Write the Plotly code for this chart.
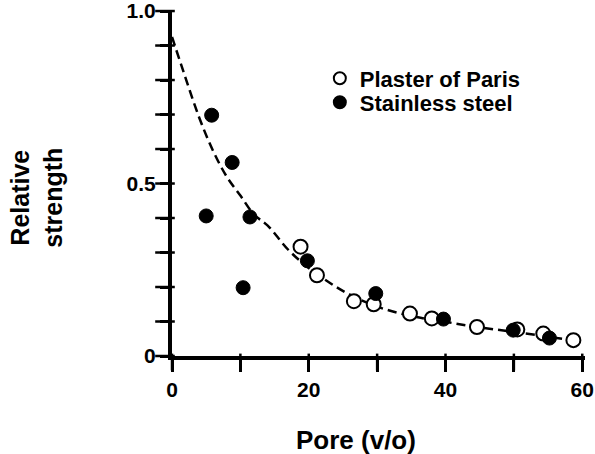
import plotly.graph_objects as go

# Data
plaster_x = [18.8, 21.2, 26.6, 29.5, 34.8, 38.0, 44.6, 50.5, 54.3, 58.7]
plaster_y = [0.317, 0.234, 0.159, 0.150, 0.123, 0.109, 0.084, 0.077, 0.065, 0.046]

steel_x = [5.8, 8.8, 5.0, 11.4, 10.4, 19.8, 29.8, 39.7, 49.9, 55.2]
steel_y = [0.698, 0.561, 0.406, 0.403, 0.198, 0.276, 0.181, 0.107, 0.075, 0.052]

fit_x = [0, 2, 4, 6, 8, 10, 12, 14, 17, 20, 23, 26, 30, 35, 40, 45, 50, 55, 58.7]
fit_y = [0.925, 0.805, 0.69, 0.595, 0.52, 0.465, 0.41, 0.378, 0.308, 0.255,
         0.213, 0.178, 0.143, 0.116, 0.099, 0.083, 0.070, 0.056, 0.045]

x_ticks = [0, 10, 20, 30, 40, 50, 60]
x_labels = ["0", "", "20", "", "40", "", "60"]
y_ticks = [0, 0.1, 0.2, 0.3, 0.4, 0.5, 0.6, 0.7, 0.8, 0.9, 1.0]
y_labels = ["0", "", "", "", "", "0.5", "", "", "", "", "1.0"]

FONT = "Liberation Sans, Arial, Helvetica, sans-serif"

# layout geometry (pixels)
W, H = 595, 454
ML, MR, MT, MB = 158, 10, 10, 86
PW = W - ML - MR
PH = H - MT - MB
YTICK_PX = 14   # tick strip left of the y axis
XTICK_PX = 12   # tick strip below the x axis

fig = go.Figure()
fig.add_trace(go.Scatter(
    x=fit_x, y=fit_y, mode="lines",
    line=dict(color="black", width=2.5, dash="9px,5px", shape="spline"),
    showlegend=False, hoverinfo="skip"))
fig.add_trace(go.Scatter(
    x=plaster_x, y=plaster_y, mode="markers", name="<b>Plaster of Paris</b>",
    marker=dict(symbol="circle", size=14, color="white", line=dict(color="black", width=2)),
    legend="legend"))
fig.add_trace(go.Scatter(
    x=steel_x, y=steel_y, mode="markers", name="<b>Stainless steel</b>",
    marker=dict(symbol="circle", size=14, color="black", line=dict(color="black", width=1)),
    legend="legend2"))

# Tick marks: line markers in thin strips next to the axes, placed by the axis scales
fig.add_trace(go.Scatter(
    x=[0.5] * len(y_ticks), y=y_ticks, xaxis="x2", yaxis="y", mode="markers",
    marker=dict(symbol="line-ew", size=14, color="black", line=dict(color="black", width=2.5)),
    cliponaxis=False, showlegend=False, hoverinfo="skip"))
fig.add_trace(go.Scatter(
    x=x_ticks, y=[0.5] * len(x_ticks), xaxis="x", yaxis="y3", mode="markers",
    marker=dict(symbol="line-ns", size=12, color="black", line=dict(color="black", width=2.5)),
    cliponaxis=False, showlegend=False, hoverinfo="skip"))

fig.update_layout(
    xaxis=dict(
        domain=[YTICK_PX / PW, 1], anchor="y",
        range=[0, 60.4], tickmode="array", tickvals=x_ticks,
        ticktext=["<b>%s</b>" % t if t else " " for t in x_labels],
        showgrid=False, zeroline=False, showline=True, linecolor="#000000", linewidth=4,
        ticks="outside", ticklen=12, tickwidth=2.5, tickcolor="#000000",
        tickfont=dict(family=FONT, size=21, color="#000000")),
    yaxis=dict(
        domain=[XTICK_PX / PH, 1], anchor="x",
        range=[0, 1.003], tickmode="array", tickvals=y_ticks,
        ticktext=["<b>%s</b>" % t if t else " " for t in y_labels],
        showgrid=False, zeroline=False, showline=True, linecolor="#000000", linewidth=4,
        ticks="outside", ticklen=8, tickwidth=2.5, tickcolor="#000000",
        ticklabeloverflow="allow",
        tickfont=dict(family=FONT, size=21, color="#000000")),
    xaxis2=dict(domain=[0, YTICK_PX / PW], anchor="y", range=[0, 1], visible=False,
                showgrid=False, zeroline=False),
    yaxis3=dict(domain=[0, XTICK_PX / PH], anchor="x", range=[0, 1], visible=False,
                showgrid=False, zeroline=False),
)

legend_style = dict(xanchor="left", yanchor="middle",
                    font=dict(family=FONT, size=22, color="black"),
                    bgcolor="rgba(0,0,0,0)", itemsizing="constant")

fig.update_layout(
    template="none",
    width=W, height=H,
    margin=dict(l=ML, r=MR, t=MT, b=MB),
    paper_bgcolor="white", plot_bgcolor="white",
    font=dict(family=FONT, color="black"),
    legend=dict(x=0.379, y=0.8087, **legend_style),
    legend2=dict(x=0.379, y=0.7416, **legend_style),
    annotations=[
        dict(text="<b>Pore (v/o)</b>", xref="x", yref="paper", x=26.9, y=0, yshift=-72,
             xanchor="center", yanchor="middle", showarrow=False,
             font=dict(family=FONT, size=26, color="black")),
        dict(text="<b>Relative<br>strength</b>", xref="paper", yref="paper", x=0, y=0.4757,
             xshift=-121, xanchor="center", yanchor="middle", textangle=-90, showarrow=False,
             font=dict(family=FONT, size=25, color="black")),
    ],
)

fig.write_html("out.html")
